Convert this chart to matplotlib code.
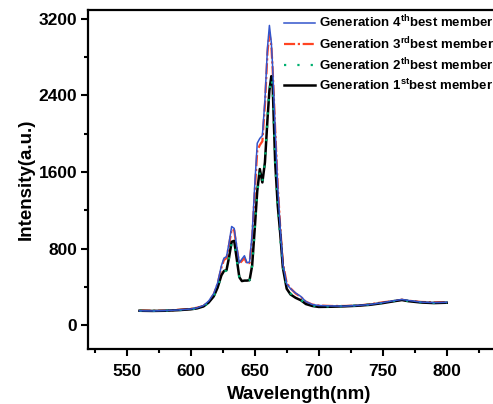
import matplotlib
matplotlib.use("Agg")
import matplotlib.pyplot as plt
from matplotlib.ticker import MultipleLocator

plt.rcParams['font.family'] = ['Liberation Sans', 'DejaVu Sans']
plt.rcParams['font.weight'] = 'bold'
plt.rcParams['mathtext.fontset'] = 'custom'
plt.rcParams['mathtext.rm'] = 'Liberation Sans:bold'
plt.rcParams['mathtext.bf'] = 'Liberation Sans:bold'

# 波长 (nm)
wl = [560, 570, 580, 590, 600, 605, 610, 614, 618, 621, 624, 626, 628, 630, 632, 634, 636,
      638, 640, 642, 644, 646, 648, 650, 652, 654, 656, 658, 660, 661.5, 663, 664, 666, 668,
      670, 672, 675, 678, 682, 686, 690, 695, 700, 710, 720, 730, 740, 750, 760, 765, 770,
      780, 790, 800]

# 各代最优个体的光谱强度
gen4 = [150, 148, 152, 158, 168, 180, 205, 250, 330, 440, 620, 700, 715, 860, 1030, 1010, 820,
        650, 690, 725, 650, 660, 950, 1450, 1900, 1950, 1980, 2350, 2900, 3130, 2950, 2700, 2050, 1450,
        1000, 640, 430, 380, 335, 300, 245, 215, 205, 200, 198, 205, 215, 235, 258, 268, 258,
        240, 235, 238]
gen3 = [152, 150, 150, 160, 170, 182, 200, 245, 320, 430, 600, 680, 700, 840, 1000, 990, 800,
        640, 670, 700, 640, 650, 900, 1380, 1820, 1880, 1920, 2300, 2850, 3050, 2920, 2680, 2050, 1460,
        1010, 650, 440, 385, 330, 295, 245, 215, 205, 200, 200, 203, 218, 238, 255, 265, 255,
        242, 238, 240]
gen2 = [150, 148, 152, 156, 165, 175, 195, 235, 300, 390, 520, 560, 570, 700, 860, 870, 680,
        500, 465, 470, 465, 470, 620, 1000, 1380, 1600, 1500, 1700, 2150, 2450, 2580, 2500, 1700, 1250,
        900, 620, 400, 330, 290, 265, 225, 205, 195, 195, 198, 205, 215, 232, 255, 265, 252,
        238, 232, 236]
gen1 = [150, 148, 150, 156, 165, 175, 195, 235, 300, 390, 520, 565, 575, 710, 870, 880, 690,
        500, 460, 465, 465, 470, 620, 1000, 1400, 1630, 1490, 1700, 2150, 2450, 2600, 2520, 1700, 1250,
        950, 600, 380, 320, 285, 260, 220, 200, 190, 192, 196, 202, 212, 230, 252, 262, 250,
        236, 230, 234]

labels = ['Generation 4$^{\\mathbf{th}}$best member',
          'Generation 3$^{\\mathbf{rd}}$best member',
          'Generation 2$^{\\mathbf{th}}$best member',
          'Generation 1$^{\\mathbf{st}}$best member']

fig = plt.figure(figsize=(4.93, 4.04), dpi=100)
ax = fig.add_axes([0.179, 0.136, 0.857, 0.839])

ax.plot(wl, gen1, color='black', lw=1.8, zorder=3)
ax.plot(wl, gen2, color='#00b070', lw=1.6, ls=(0, (1, 5)), zorder=4)
ax.plot(wl, gen3, color='#ff4422', lw=1.6, ls=(0, (5, 1.2, 1, 1.2)), zorder=2)
ax.plot(wl, gen4, color='#3355cc', lw=1.1, zorder=5)

# 图例顺序：第4代在上
h = ax.get_lines()
ax.legend([h[3], h[2], h[1], h[0]], labels, loc='upper left',
          bbox_to_anchor=(284 / 493, 1 - 14 / 404), bbox_transform=fig.transFigure,
          frameon=False, fontsize=9.5, handlelength=2.35, handletextpad=0.3,
          labelspacing=0.35, borderpad=0, borderaxespad=0)

ax.set_xlim(520, 850)
ax.set_ylim(-250, 3290)
ax.xaxis.set_major_locator(MultipleLocator(50))
ax.xaxis.set_minor_locator(MultipleLocator(25))
ax.yaxis.set_major_locator(MultipleLocator(800))
ax.yaxis.set_minor_locator(MultipleLocator(400))
ax.set_xticks([550, 600, 650, 700, 750, 800])

for s in ax.spines.values():
    s.set_linewidth(1.6)
ax.tick_params(which='major', direction='out', length=5, width=1.5, labelsize=12.5)
ax.tick_params(axis='x', which='major', pad=6)
ax.tick_params(axis='y', which='major', pad=3)
ax.tick_params(which='minor', direction='out', length=3, width=1.5)

ax.set_xlabel('Wavelength(nm)', fontsize=13.5, fontweight='bold', labelpad=5)
ax.set_ylabel('Intensity(a.u.)', fontsize=13.5, fontweight='bold', labelpad=3)

fig.savefig('out.png', dpi=100)
